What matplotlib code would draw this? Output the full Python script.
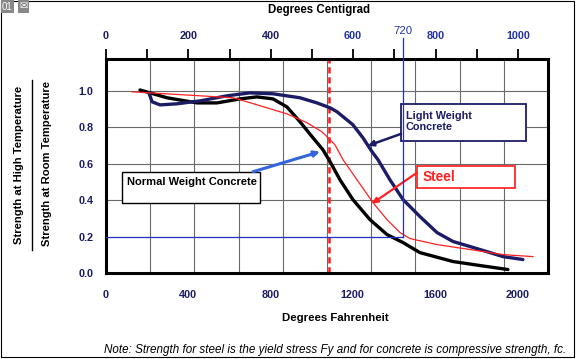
import matplotlib
matplotlib.use("Agg")
import matplotlib.pyplot as plt
from matplotlib.patches import Rectangle

plt.rcParams["font.family"] = ["Liberation Sans", "DejaVu Sans"]

# --- data (deg F, strength ratio) ---
normal_f = [165, 297, 443, 540, 652, 734, 812, 880, 944, 1007, 1055, 1090, 1138,
            1201, 1284, 1367, 1445, 1527, 1688, 1819, 1955]
normal_s = [1.005, 0.962, 0.934, 0.934, 0.956, 0.967, 0.956, 0.912, 0.830, 0.742,
            0.677, 0.611, 0.512, 0.403, 0.293, 0.211, 0.167, 0.112, 0.063, 0.041, 0.019]

light_f = [209, 224, 263, 345, 457, 589, 700, 812, 944, 1026, 1090, 1124, 1201,
           1250, 1294, 1323, 1381, 1445, 1527, 1610, 1688, 1819, 1931, 2028]
light_s = [0.989, 0.940, 0.923, 0.929, 0.945, 0.973, 0.989, 0.984, 0.962, 0.934,
           0.907, 0.885, 0.814, 0.742, 0.666, 0.622, 0.512, 0.403, 0.310, 0.222,
           0.173, 0.129, 0.090, 0.074]

steel_f = [126, 214, 457, 618, 686, 783, 880, 978, 1051, 1114, 1153, 1221, 1299,
           1367, 1430, 1479, 1610, 1770, 1931, 2077]
steel_s = [0.995, 0.989, 0.973, 0.962, 0.940, 0.907, 0.874, 0.825, 0.775, 0.704,
           0.622, 0.512, 0.386, 0.293, 0.222, 0.189, 0.156, 0.129, 0.101, 0.090]

f_ticks = [0, 400, 800, 1200, 1600, 2000]
y_ticks = [0.0, 0.2, 0.4, 0.6, 0.8, 1.0]
c_ticks = list(range(0, 1001, 100))
c_labels = ["0", "", "200", "", "400", "", "600", "", "800", "", "1000"]

limit_f = 1085      # red dashed limit
crit_c = 720        # critical temp, deg C
crit_s = 0.2

NAVY = "#1c1c66"
BLUE = "#2233aa"
GRID = "#6a6a6a"

W, H = 579, 359
fig = plt.figure(figsize=(W / 100, H / 100), dpi=100)
fig.patch.set_facecolor("white")


def fx(x):
    return x / W


def fy(y):
    return 1 - y / H


ax = fig.add_axes([fx(106), fy(273), 442 / W, 214 / H])
ax.set_xlim(0, 2150)
ax.set_ylim(0, 1.175)

# grid: ten equal columns, rows at the y ticks
for i in range(1, 10):
    ax.axvline(2150 * i / 10, color=GRID, lw=0.8, zorder=1)
for v in y_ticks[2:]:
    ax.axhline(v, color=GRID, lw=0.8, zorder=1)

ax.plot(normal_f, normal_s, color="black", lw=2.4, solid_joinstyle="round",
        solid_capstyle="round", zorder=4)
ax.plot(light_f, light_s, color=NAVY, lw=2.4, solid_joinstyle="round",
        solid_capstyle="round", zorder=4)
ax.plot(steel_f, steel_s, color="#ff2020", lw=0.9, zorder=5)

ax.axvline(limit_f, color="#ff1a1a", lw=1.8, ls=(0, (2.5, 1.5)), zorder=3)

ax.set_xticks(f_ticks)
ax.set_xticklabels([str(v) for v in f_ticks])
ax.set_yticks(y_ticks)
ax.set_yticklabels(["%.1f" % v for v in y_ticks])
ax.tick_params(axis="both", length=0, labelsize=7.8, colors=NAVY)
ax.tick_params(axis="x", pad=12)
ax.tick_params(axis="y", pad=9)
for lab in ax.get_xticklabels() + ax.get_yticklabels():
    lab.set_fontweight("bold")
for s in ax.spines.values():
    s.set_linewidth(2.2)
    s.set_color("black")
    s.set_zorder(6)

# top Centigrade axis
ax2 = ax.twiny()
ax2.set_xlim(0, 1073)
ax2.set_xticks(c_ticks)
ax2.set_xticklabels(c_labels)
ax2.tick_params(axis="x", direction="out", length=7, width=1.3, pad=6,
                labelsize=7.8, colors="black")
for lab, v in zip(ax2.get_xticklabels(), c_ticks):
    lab.set_fontweight("bold")
    lab.set_color(NAVY if v < 600 else BLUE)
for s in ax2.spines.values():
    s.set_visible(False)

ax2.plot([0, crit_c], [crit_s, crit_s], color="#2030c0", lw=0.9, zorder=3)
ax2.plot([crit_c, crit_c], [crit_s, 1.29], color="#2030c0", lw=0.9, zorder=3,
         clip_on=False)
ax2.text(crit_c, 1.30, "720", color=BLUE, fontsize=8.2, ha="center",
         va="bottom")

# callout boxes and arrows (data coordinates of the F axis)
ax.add_patch(Rectangle((78, 0.386), 671, 0.170, fill=True, fc="white",
                       ec="black", lw=1.0, zorder=7))
ax.text(100, 0.501, "Normal Weight Concrete", fontsize=8, fontweight="bold",
        color="black", va="center", zorder=8)
ax.annotate("", xy=(1041, 0.666), xytext=(715, 0.556),
            arrowprops=dict(arrowstyle="-|>", color="#3366dd", lw=2.2,
                            mutation_scale=8, shrinkA=0, shrinkB=0), zorder=7)

ax.add_patch(Rectangle((1435, 0.726), 608, 0.203, fill=True, fc="white",
                       ec=NAVY, lw=1.3, zorder=7))
ax.text(1459, 0.83, "Light Weight\nConcrete", fontsize=7.8, fontweight="bold",
        color=NAVY, va="center", linespacing=1.1, zorder=8)
ax.annotate("", xy=(1274, 0.699), xytext=(1435, 0.764),
            arrowprops=dict(arrowstyle="-|>", color=NAVY, lw=1.8,
                            mutation_scale=8, shrinkA=0, shrinkB=0), zorder=7)

ax.add_patch(Rectangle((1513, 0.468), 476, 0.121, fill=True, fc="white",
                       ec="#ff2a2a", lw=1.3, zorder=7))
ax.text(1542, 0.529, "Steel", fontsize=9.8, fontweight="bold", color="#ff2020",
        va="center", zorder=8)
ax.annotate("", xy=(1294, 0.381), xytext=(1513, 0.551),
            arrowprops=dict(arrowstyle="-|>", color="#ff2020", lw=1.6,
                            mutation_scale=8, shrinkA=0, shrinkB=0), zorder=7)

# titles and notes
fig.text(fx(319), fy(10), "Degrees Centigrad", fontsize=8.3, fontweight="bold",
         ha="center", va="center")
fig.text(fx(335), fy(318), "Degrees Fahrenheit", fontsize=8.2, fontweight="bold",
         ha="center", va="center")
fig.text(fx(335), fy(350),
         "Note: Strength for steel is the yield stress Fy and for concrete is "
         "compressive strength, fc.", fontsize=8.4, style="italic",
         ha="center", va="center")
fig.text(fx(19), fy(165), "Strength at High Temperature", fontsize=8.1,
         fontweight="bold", rotation=90, ha="center", va="center")
fig.text(fx(47), fy(164), "Strength at Room Temperature", fontsize=8.1,
         fontweight="bold", rotation=90, ha="center", va="center")
fig.add_artist(plt.Line2D([fx(32), fx(32)], [fy(80), fy(250)], color="black",
                          lw=1.0))

# corner badge and outer frame
fig.text(fx(2), fy(6.5), "01", fontsize=7, color="white", va="center",
         bbox=dict(boxstyle="square,pad=0.15", fc="#888888", ec="none"))
fig.text(fx(19), fy(6.5), "\u2709", fontsize=7, color="white", va="center",
         bbox=dict(boxstyle="square,pad=0.15", fc="#888888", ec="none"))
fig.add_artist(Rectangle((fx(1), fy(357)), fx(573), 356 / H, fill=False,
                         ec="black", lw=0.8, transform=fig.transFigure))

fig.savefig("out.png", dpi=100)
